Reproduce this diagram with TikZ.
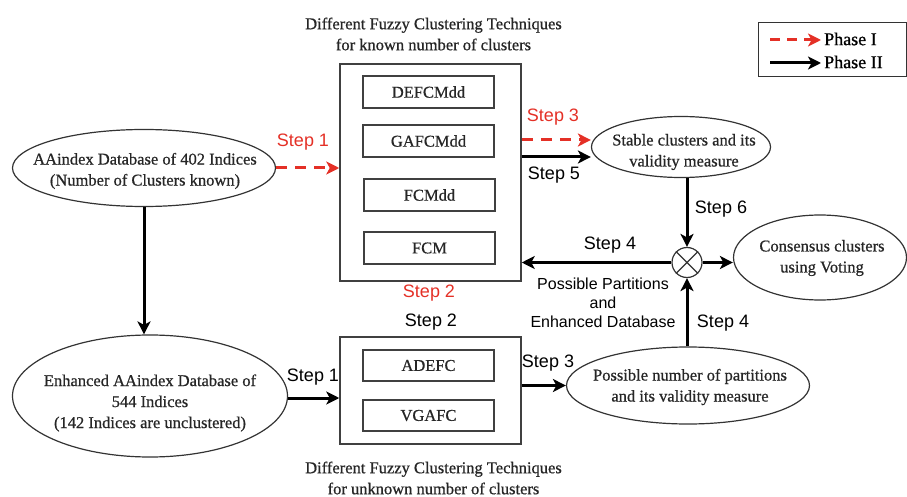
\documentclass[tikz,border=0pt]{standalone}
\usepackage{fontspec}
\setmainfont{Liberation Serif}
\setsansfont{Liberation Sans}
\newfontfamily\inkserif{Liberation Serif}[FakeBold=0.7]
\usetikzlibrary{shapes.geometric,arrows.meta}
\definecolor{phred}{RGB}{228,48,38}
\begin{document}
\begin{tikzpicture}[x=1pt,y=-1pt,
  serif/.style={font=\inkserif\fontsize{16.5}{21}\selectfont, align=center, text=black!85, inner sep=0pt},
  lbl/.style={font=\sffamily\fontsize{18}{21}\selectfont, align=center},
  smlbl/.style={font=\sffamily\fontsize{16}{19}\selectfont, align=center},
  redlbl/.style={lbl, text=phred},
  ell/.style={ellipse, draw=black!80, line width=1.2pt, inner sep=0pt},
  box/.style={draw=black!75, line width=1.5pt, inner sep=0pt},
  ibox/.style={box, minimum width=131pt, minimum height=32pt, serif},
  arr/.style={line width=3pt, -{Stealth[length=13pt,width=13pt,inset=3.5pt]}},
  darr/.style={arr, phred, dash pattern=on 11pt off 8pt},
]
\useasboundingbox (0,0) rectangle (907,497);

% titles
\node[serif] (t1) at (433.5,34) {Different Fuzzy Clustering Techniques\\for known number of clusters};
\node[serif] (t2) at (433.5,478) {Different Fuzzy Clustering Techniques\\for unknown number of clusters};

% known-number box
\node[box, minimum width=181pt, minimum height=217pt] (K) at (430.5,172.5) {};
\node[ibox] (k1) at (428.5,92) {DEFCMdd};
\node[ibox] (k2) at (428.5,141) {GAFCMdd};
\node[ibox] (k3) at (429.5,195) {FCMdd};
\node[ibox] (k4) at (429.5,248) {FCM};

% unknown-number box
\node[box, minimum width=181pt, minimum height=107pt] (U) at (430.5,390.5) {};
\node[ibox, minimum height=31pt] (u1) at (428.5,365.5) {ADEFC};
\node[ibox, minimum height=31pt] (u2) at (428.5,415.5) {VGAFC};

% ellipses
\node[ell, minimum width=263pt, minimum height=77pt] (A) at (144,168) {};
\node[serif] (At) at (145,171) {AAindex Database of 402 Indices\\(Number of Clusters known)};
\node[ell, minimum width=275pt, minimum height=122pt] (E) at (150,396) {};
\node[serif] (Et) at (150,403) {Enhanced AAindex Database of\\544 Indices\\(142 Indices are unclustered)};
\node[ell, minimum width=179pt, minimum height=61pt] (S) at (681,147) {};
\node[serif] (St) at (684,152) {Stable clusters and its\\validity measure};
\node[ell, minimum width=173pt, minimum height=85pt] (C) at (820,257.5) {};
\node[serif] (Ct) at (822,258) {Consensus clusters\\using Voting};
\node[ell, minimum width=243pt, minimum height=77pt] (P) at (688,385.5) {};
\node[serif] (Pt) at (690,387) {Possible number of partitions\\and its validity measure};

% combiner
\node[circle, draw=black!80, line width=1.2pt, minimum size=30pt, inner sep=0pt] (X) at (687,262.5) {};
\draw[black!80, line width=1.2pt] (X.north west) -- (X.south east) (X.north east) -- (X.south west);

% connectors
\draw[darr] (A.east) -- (A.east -| K.west);
\draw[arr] (A.south) -- (A.south |- E.north);
\draw[darr] ([yshift=7pt]K.east |- S.west) -- ([yshift=7pt]S.west);
\draw[arr] ([yshift=-10pt]K.east |- S.west) -- ([yshift=-10pt]S.west);
\draw[arr] (S.south -| X.north) -- (X.north);
\draw[arr] (X.west) -- (X.west -| K.east);
\draw[arr] (X.east) -- (X.east -| C.west);
\draw[arr] (P.north -| X.south) -- (X.south);
\draw[arr] ([yshift=-2pt]E.east) -- ([yshift=-2pt]E.east -| U.west);
\draw[arr] (P.west -| U.east) -- (P.west);

% labels
\node[redlbl] (s1r) at (303,142) {Step 1};
\node[redlbl] (s3r) at (553,117) {Step 3};
\node[lbl] (s5) at (554,175) {Step 5};
\node[lbl] (s6) at (721,209) {Step 6};
\node[lbl] (s4a) at (610,245) {Step 4};
\node[smlbl] (pp) at (603,303) {Possible Partitions\\and\\Enhanced Database};
\node[redlbl] (s2r) at (429,293) {Step 2};
\node[lbl] (s2) at (431,322) {Step 2};
\node[lbl] (s4b) at (723,323) {Step 4};
\node[lbl] (s1) at (313,377) {Step 1};
\node[lbl] (s3) at (548,363) {Step 3};

% legend
\node[draw=black!80, line width=1pt, minimum width=148pt, minimum height=54pt, inner sep=0pt] (L) at (832,50) {};
\coordinate (la) at (770,40);
\coordinate (lb) at (821,40);
\coordinate (lc) at (770,63);
\coordinate (ld) at (821,63);
\draw[darr, dash pattern=on 10pt off 7pt] (la) -- (lb);
\draw[arr] (lc) -- (ld);
\node[font=\inkserif\fontsize{18}{20}\selectfont, anchor=west, inner sep=0pt] (p1) at (824,39) {Phase I};
\node[font=\inkserif\fontsize{18}{20}\selectfont, anchor=west, inner sep=0pt] (p2) at (824,62) {Phase II};
\end{tikzpicture}
\end{document}
